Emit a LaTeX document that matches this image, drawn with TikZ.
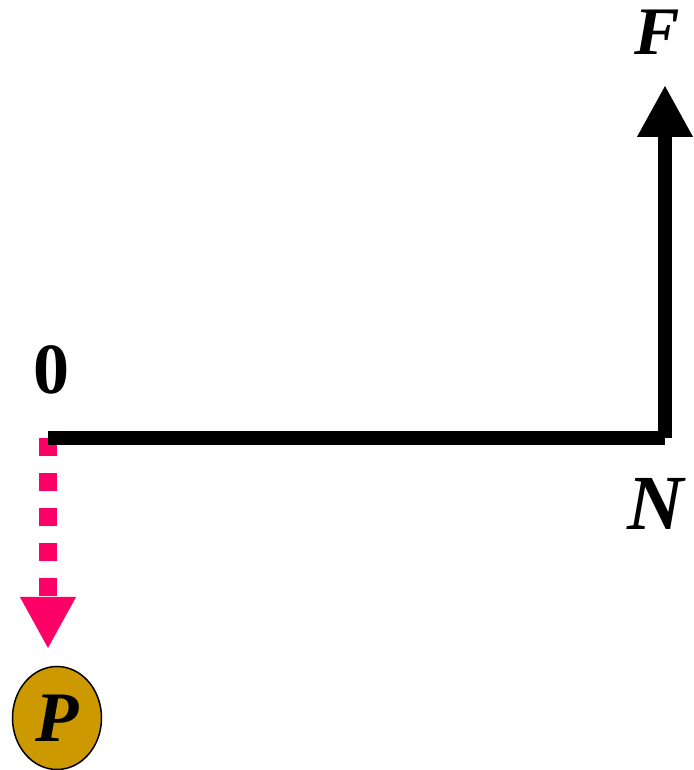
\documentclass[tikz,border=0pt]{standalone}
\usepackage{fontspec}
\setmainfont{Liberation Serif}
\usepackage{tikz}
\usetikzlibrary{shapes.geometric,arrows.meta,positioning,calc}
\definecolor{hotpink}{HTML}{FF0066}
\definecolor{gold}{HTML}{CC9900}
\tikzstyle{beam} = [line width=14pt, black]
\tikzstyle{force} = [line width=14pt, black, -{Triangle[length=52pt, width=52pt]}]
\tikzstyle{drop} = [line width=18pt, hotpink, dash pattern=on 18pt off 17pt, -{Triangle[length=52pt, width=52pt]}]
\tikzstyle{lbl} = [inner sep=0pt, font=\fontsize{70}{80}\selectfont\bfseries]
\tikzstyle{ball} = [draw, ellipse, line width=1.5pt, fill=gold, minimum width=89pt, minimum height=103pt, inner sep=0pt]

\begin{document}
\begin{tikzpicture}[x=1pt, y=1pt]
  \useasboundingbox (0,0) rectangle (693,770);
  % Points
  \coordinate (origin) at (48,332);
  \coordinate (corner) at (665,332);
  \coordinate (ftip) at (665,685);
  \coordinate (ptip) at (48,121);

  % Nodes
  \node [lbl, font=\fontsize{68}{80}\selectfont\bfseries\itshape] (f) at (657,738) {F};
  \node [lbl, font=\fontsize{78}{90}\selectfont\bfseries\itshape] (n) at (656,266) {N};
  \node [lbl, font=\fontsize{72}{80}\selectfont\bfseries] (zero) at (51.5,400) {0};
  \node [ball, font=\fontsize{71}{80}\selectfont\bfseries\itshape] (p) at (57,52) {P};

  % Path
  \draw [drop] (origin) -- (ptip);
  \draw [beam] (origin) -- (corner);
  \draw [force] (corner) -- (ftip);
\end{tikzpicture}
\end{document}
